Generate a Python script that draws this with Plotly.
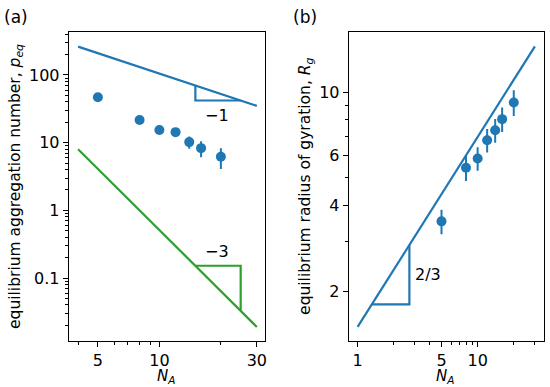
import plotly.graph_objects as go
import numpy as np

# ---- data ----
n_a = [5, 8, 10, 12, 14, 16, 20]
p_eq = [47, 21.6, 15.4, 14.3, 10.2, 8.3, 6.2]
p_eq_err = [1.0, 1.0, 1.0, 1.0, 2.1, 2.2, 2.1]
r_g = [3.52, 5.43, 5.85, 6.78, 7.35, 8.04, 9.2]
r_g_err = [0.35, 0.55, 0.55, 0.64, 0.7, 0.8, 0.95]

# guide lines (power laws)
guide_a_x = [4, 30]
guide_a1_y = [1050 / 4, 1050 / 30]          # slope -1
guide_a3_y = [512 / 4**3, 512 / 30**3]      # slope -3
tri_a1_x = [15, 15, 25]
tri_a1_y = [70, 42, 42]
tri_a3_x = [15, 25, 25]
tri_a3_y = [0.152, 0.152, 512 / 25**3]
guide_b_x = [1, 30]
guide_b_y = [1.5 * 1**(2 / 3), 1.5 * 30**(2 / 3)]
tri_b_x = [1.315, 2.7, 2.7]
tri_b_y = [1.8, 1.8, 1.5 * 2.7**(2 / 3)]

# tick values
left_x_ticks = [5, 10, 30]
left_y_ticks = [0.1, 1, 10, 100]
right_x_ticks = [1, 5, 10]
right_y_ticks = [2, 4, 6, 10]
left_x_minor = [4, 6, 7, 8, 9, 20]
left_y_minor = [m * 10**e for e in range(-2, 3) for m in range(2, 10)]
right_x_minor = [2, 3, 4, 6, 7, 8, 9, 20, 30]
right_y_minor = [3, 5, 7, 8, 9]

BLUE = "#1f77b4"
GREEN = "#2ca02c"
FONT = "DejaVu Sans"
LW = 2.2

fig = go.Figure()

# panel (a)
for xs, ys, c in [(guide_a_x, guide_a1_y, BLUE), (tri_a1_x, tri_a1_y, BLUE),
                  (guide_a_x, guide_a3_y, GREEN), (tri_a3_x, tri_a3_y, GREEN)]:
    fig.add_trace(go.Scatter(x=xs, y=ys, mode="lines", line=dict(color=c, width=LW),
                             xaxis="x", yaxis="y"))
fig.add_trace(go.Scatter(x=n_a, y=p_eq, mode="markers",
                         marker=dict(color=BLUE, size=10),
                         error_y=dict(type="data", array=p_eq_err, color=BLUE,
                                      thickness=2, width=0),
                         xaxis="x", yaxis="y"))

# panel (b)
for xs, ys in [(guide_b_x, guide_b_y), (tri_b_x, tri_b_y)]:
    fig.add_trace(go.Scatter(x=xs, y=ys, mode="lines", line=dict(color=BLUE, width=LW),
                             xaxis="x2", yaxis="y2"))
fig.add_trace(go.Scatter(x=n_a, y=r_g, mode="markers",
                         marker=dict(color=BLUE, size=10),
                         error_y=dict(type="data", array=r_g_err, color=BLUE,
                                      thickness=2, width=0),
                         xaxis="x2", yaxis="y2"))

W, H = 550, 387
ydom = [1 - 341 / H, 1 - 32 / H]
xdom_a = [69 / W, 266 / W]
xdom_b = [350 / W, 546 / W]
rx_a = [np.log10(3.6), np.log10(32.9)]
ry_a = [-1.93, 2.635]
rx_b = [-0.074, 1.553]
ry_b = [0.1268, 1.211]


def ax(domain, rng, tickvals, anchor):
    return dict(type="log", domain=domain, range=rng, anchor=anchor,
                tickmode="array", tickvals=tickvals,
                ticktext=[("%g" % v) for v in tickvals],
                ticks="outside", ticklen=5, tickwidth=1, tickcolor="black",
                showline=True, linecolor="black", linewidth=1, mirror=True,
                showgrid=False, zeroline=False,
                tickfont=dict(family=FONT, size=16, color="black"))


def minor_ax(domain, rng, tickvals, anchor, overlay):
    return dict(type="log", domain=domain, range=rng, anchor=anchor,
                overlaying=overlay, tickmode="array", tickvals=tickvals,
                ticks="outside", ticklen=2.5, tickwidth=0.8, tickcolor="black",
                showticklabels=False, showline=False, showgrid=False, zeroline=False)


fig.update_layout(
    width=W, height=H,
    margin=dict(l=0, r=0, t=0, b=0),
    paper_bgcolor="white", plot_bgcolor="white",
    showlegend=False,
    font=dict(family=FONT, size=16, color="black"),
    xaxis=ax(xdom_a, rx_a, left_x_ticks, "y"),
    yaxis=ax(ydom, ry_a, left_y_ticks, "x"),
    xaxis2=ax(xdom_b, rx_b, right_x_ticks, "y2"),
    yaxis2=ax(ydom, ry_b, right_y_ticks, "x2"),
    xaxis3=minor_ax(xdom_a, rx_a, left_x_minor, "y", "x"),
    yaxis3=minor_ax(ydom, ry_a, left_y_minor, "x", "y"),
    xaxis4=minor_ax(xdom_b, rx_b, right_x_minor, "y2", "x2"),
    yaxis4=minor_ax(ydom, ry_b, right_y_minor, "x2", "y2"),
)
# invisible anchor traces so the minor-tick axes render
fig.add_trace(go.Scatter(x=[10], y=[1], xaxis="x3", yaxis="y3", mode="markers",
                         marker=dict(opacity=0), hoverinfo="skip"))
fig.add_trace(go.Scatter(x=[5], y=[5], xaxis="x4", yaxis="y4", mode="markers",
                         marker=dict(opacity=0), hoverinfo="skip"))

annots = [
    dict(x=16, y=17, text="(a)", size=17),
    dict(x=306, y=17, text="(b)", size=17),
    dict(x=167, y=376, text="<i>N<sub>A</sub></i>", size=15),
    dict(x=447, y=376, text="<i>N<sub>A</sub></i>", size=15),
]
for a in annots:
    fig.add_annotation(x=a["x"] / W, y=1 - a["y"] / H, xref="paper", yref="paper",
                       text=a["text"], showarrow=False,
                       font=dict(family=FONT, size=a["size"], color="black"),
                       xanchor="center", yanchor="middle")

fig.add_annotation(x=16 / W, y=1 - 186 / H, xref="paper", yref="paper",
                   text="equilibrium aggregation number, <i>p<sub>eq</sub></i>",
                   textangle=-90, showarrow=False,
                   font=dict(family=FONT, size=15.5, color="black"),
                   xanchor="center", yanchor="middle")
fig.add_annotation(x=307 / W, y=1 - 186 / H, xref="paper", yref="paper",
                   text="equilibrium radius of gyration, <i>R<sub>g</sub></i>",
                   textangle=-90, showarrow=False,
                   font=dict(family=FONT, size=15.5, color="black"),
                   xanchor="center", yanchor="middle")

# slope labels
fig.add_annotation(x=np.log10(19.2), y=np.log10(24.8), xref="x", yref="y",
                   text="\u22121", showarrow=False,
                   font=dict(family=FONT, size=16, color="black"))
fig.add_annotation(x=np.log10(19.2), y=np.log10(0.244), xref="x", yref="y",
                   text="\u22123", showarrow=False,
                   font=dict(family=FONT, size=16, color="black"))
fig.add_annotation(x=np.log10(3.86), y=np.log10(2.29), xref="x2", yref="y2",
                   text="2/3", showarrow=False,
                   font=dict(family=FONT, size=16, color="black"))

# tiny minor tick label dashes on left x axis
for xv in [4, 6, 20]:
    fig.add_annotation(x=np.log10(xv), y=1 - 348 / H, xref="x", yref="paper",
                       text="-", showarrow=False,
                       font=dict(family=FONT, size=7, color="#444"))

fig.write_html("out.html", config={"displayModeBar": False},
               post_script="document.body.style.margin='0';document.body.style.overflow='hidden';")
